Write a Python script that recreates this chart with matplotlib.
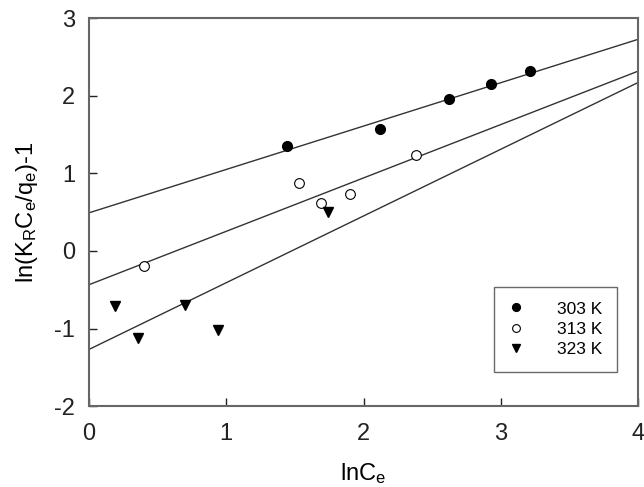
import matplotlib
matplotlib.use("Agg")
import matplotlib.pyplot as plt
import numpy as np

plt.rcParams['font.family'] = ['Liberation Sans', 'DejaVu Sans']
plt.rcParams['mathtext.fontset'] = 'custom'
plt.rcParams['mathtext.rm'] = 'Liberation Sans'
plt.rcParams['mathtext.it'] = 'Liberation Sans'
plt.rcParams['axes.unicode_minus'] = False

# Data
x303 = [1.44, 2.12, 2.62, 2.93, 3.21]
y303 = [1.35, 1.57, 1.96, 2.15, 2.32]
x313 = [0.40, 1.53, 1.69, 1.90, 2.38]
y313 = [-0.20, 0.88, 0.62, 0.73, 1.24]
x323 = [0.19, 0.36, 0.70, 0.94, 1.74]
y323 = [-0.71, -1.12, -0.70, -1.02, 0.50]

# fitted lines: intercept, slope
fit303 = (0.49, 0.559)
fit313 = (-0.436, 0.688)
fit323 = (-1.27, 0.860)

labels = ['303 K', '313 K', '323 K']
xticks = [0, 1, 2, 3, 4]
yticks = [-2, -1, 0, 1, 2, 3]

fig = plt.figure(figsize=(6.44, 4.87), dpi=100)
ax = fig.add_axes([0.138, 0.166, 0.853, 0.797])

xl = np.array([0, 4])
line_color = '#333333'
for b, m in (fit303, fit313, fit323):
    ax.plot(xl, b + m * xl, color=line_color, lw=1.0, zorder=2)

ax.plot(x303, y303, 'o', color='black', ms=7, ls='none', label=labels[0], zorder=3)
ax.plot(x313, y313, 'o', mfc='white', mec='black', mew=0.8, ms=7, ls='none', label=labels[1], zorder=3)
ax.plot(x323, y323, 'v', color='black', ms=7.5, ls='none', label=labels[2], zorder=3)

ax.set_xlim(0, 4)
ax.set_ylim(-2, 3)
ax.set_xticks(xticks)
ax.set_yticks(yticks)
ax.tick_params(direction='in', length=6, width=1, labelsize=17, colors='#222222')
ax.tick_params(axis='x', pad=12)
ax.tick_params(axis='y', pad=10)
for s in ax.spines.values():
    s.set_color('#666666')
    s.set_linewidth(1.5)

ax.set_xlabel('lnC$_\\mathregular{e}$', fontsize=17, labelpad=12)
ax.set_ylabel('ln(K$_\\mathregular{R}$C$_\\mathregular{e}$/q$_\\mathregular{e}$)-1', fontsize=17, labelpad=10)

leg = ax.legend(loc='lower right', bbox_to_anchor=(0.962, 0.088), fontsize=12.5,
                frameon=True, fancybox=False, handletextpad=2.0, borderpad=0.85,
                labelspacing=0.3, handlelength=0.8, borderaxespad=0, markerscale=0.8)
leg.get_frame().set_edgecolor('#444444')
leg.get_frame().set_linewidth(1.0)

fig.savefig('out.png', dpi=100)
